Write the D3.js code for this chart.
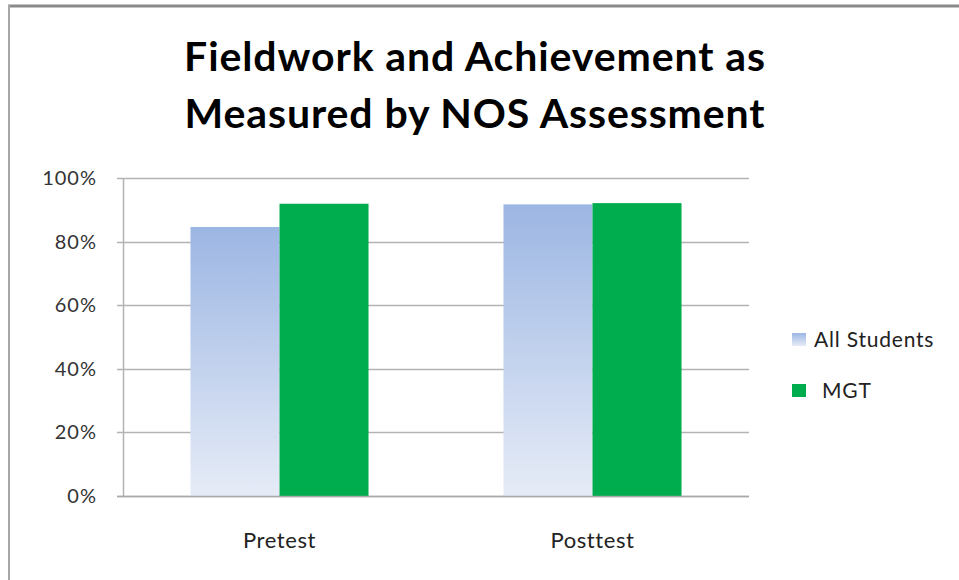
<!DOCTYPE html>
<html>
<head>
<meta charset="utf-8">
<script src="https://cdn.jsdelivr.net/npm/d3@7"></script>
<style>
  body { margin: 0; background: #fff; }
  svg { display: block; font-family: Lato, "Open Sans", sans-serif; }
</style>
</head>
<body>
<div id="chart"></div>
<script>
/*******************************/
/*            Data             */
/*******************************/

var categories = ["Pretest", "Posttest"];
var seriesNames = ["All Students", "MGT"];
var allStudents = [0.846, 0.917];
var mgt = [0.919, 0.921];
var yTicks = [0, 0.2, 0.4, 0.6, 0.8, 1.0];
var titleLines = ["Fieldwork and Achievement as", "Measured by NOS Assessment"];

/*******************************/
/*        Chart setup          */
/*******************************/

var width = 959, height = 580;
var plot = { left: 123, top: 178, right: 749, bottom: 496 };

var svg = d3.select("#chart").append("svg")
  .attr("width", width)
  .attr("height", height);

var defs = svg.append("defs");
var grad = defs.append("linearGradient")
  .attr("id", "blueGrad")
  .attr("x1", 0).attr("y1", 0)
  .attr("x2", 0).attr("y2", 1);
grad.append("stop").attr("offset", "0%").attr("stop-color", "#9cb6e3");
grad.append("stop").attr("offset", "100%").attr("stop-color", "#e6ecf7");

var colors = ["url(#blueGrad)", "#00ad4e"];

// frame
svg.append("line")
  .attr("x1", 8).attr("x2", width).attr("y1", 6).attr("y2", 6)
  .attr("stroke", "#8a8a8a").attr("stroke-width", 3);
svg.append("line")
  .attr("x1", 9).attr("x2", 9).attr("y1", 5).attr("y2", height)
  .attr("stroke", "#a6a6a6").attr("stroke-width", 2);

// title
svg.append("g").selectAll("text")
  .data(titleLines)
  .enter().append("text")
  .attr("x", 475)
  .attr("y", function(d, i) { return 71 + i * 57; })
  .attr("text-anchor", "middle")
  .attr("font-size", 41)
  .attr("font-weight", "bold")
  .attr("letter-spacing", 0.9)
  .attr("fill", "#000")
  .text(function(d) { return d; });

var x0 = d3.scaleBand()
  .domain(categories)
  .range([plot.left, plot.right])
  .paddingInner(0)
  .paddingOuter(0);

var x1 = d3.scaleBand()
  .domain(seriesNames)
  .range([0, x0.bandwidth()])
  .paddingInner(0)
  .paddingOuter(0.758);

var y = d3.scaleLinear()
  .domain([0, 1])
  .range([plot.bottom, plot.top]);

// gridlines
svg.append("g")
  .selectAll("line")
  .data(yTicks)
  .enter().append("line")
  .attr("x1", plot.left - 6)
  .attr("x2", plot.right)
  .attr("y1", function(d) { return Math.round(y(d)) + 0.5; })
  .attr("y2", function(d) { return Math.round(y(d)) + 0.5; })
  .attr("stroke", "#b3b3b3")
  .attr("stroke-width", 1.5);

// y axis labels
svg.append("g")
  .selectAll("text")
  .data(yTicks)
  .enter().append("text")
  .attr("x", 97)
  .attr("y", function(d) { return y(d); })
  .attr("dy", "0.35em")
  .attr("text-anchor", "end")
  .attr("font-size", 20)
  .attr("letter-spacing", 1)
  .attr("fill", "#333")
  .text(d3.format(".0%"));

// bars
var rows = categories.map(function(c, i) {
  return { cat: c, values: [allStudents[i], mgt[i]] };
});

var groups = svg.append("g")
  .selectAll("g")
  .data(rows)
  .enter().append("g")
  .attr("transform", function(d) { return "translate(" + x0(d.cat) + ",0)"; });

groups.selectAll("rect")
  .data(function(d) {
    return d.values.map(function(v, j) { return { name: seriesNames[j], value: v, j: j }; });
  })
  .enter().append("rect")
  .attr("x", function(d) { return x1(d.name); })
  .attr("width", x1.bandwidth())
  .attr("y", function(d) { return y(d.value); })
  .attr("height", function(d) { return y(0) - y(d.value); })
  .attr("fill", function(d) { return colors[d.j]; });

// axis lines
svg.append("line")
  .attr("x1", plot.left + 0.5).attr("x2", plot.left + 0.5)
  .attr("y1", plot.top).attr("y2", plot.bottom + 1)
  .attr("stroke", "#b3b3b3").attr("stroke-width", 1.5);
svg.append("line")
  .attr("x1", plot.left - 6).attr("x2", plot.right)
  .attr("y1", plot.bottom + 0.5).attr("y2", plot.bottom + 0.5)
  .attr("stroke", "#a8a8a8").attr("stroke-width", 1.5);

// x axis labels
svg.append("g")
  .selectAll("text")
  .data(categories)
  .enter().append("text")
  .attr("x", function(d) { return x0(d) + x0.bandwidth() / 2; })
  .attr("y", 548)
  .attr("text-anchor", "middle")
  .attr("font-size", 22)
  .attr("letter-spacing", 0.6)
  .attr("fill", "#222")
  .text(function(d) { return d; });

// legend
var legend = svg.append("g")
  .selectAll("g")
  .data(seriesNames)
  .enter().append("g")
  .attr("transform", function(d, i) { return "translate(792," + (333 + i * 51) + ")"; });

legend.append("rect")
  .attr("width", 14)
  .attr("height", 13)
  .attr("fill", function(d, i) { return colors[i]; });

legend.append("text")
  .attr("x", function(d, i) { return i === 0 ? 22 : 30; })
  .attr("y", 7)
  .attr("dy", "0.35em")
  .attr("font-size", 21)
  .attr("letter-spacing", 0.8)
  .attr("fill", "#222")
  .text(function(d) { return d; });
</script>
</body>
</html>
